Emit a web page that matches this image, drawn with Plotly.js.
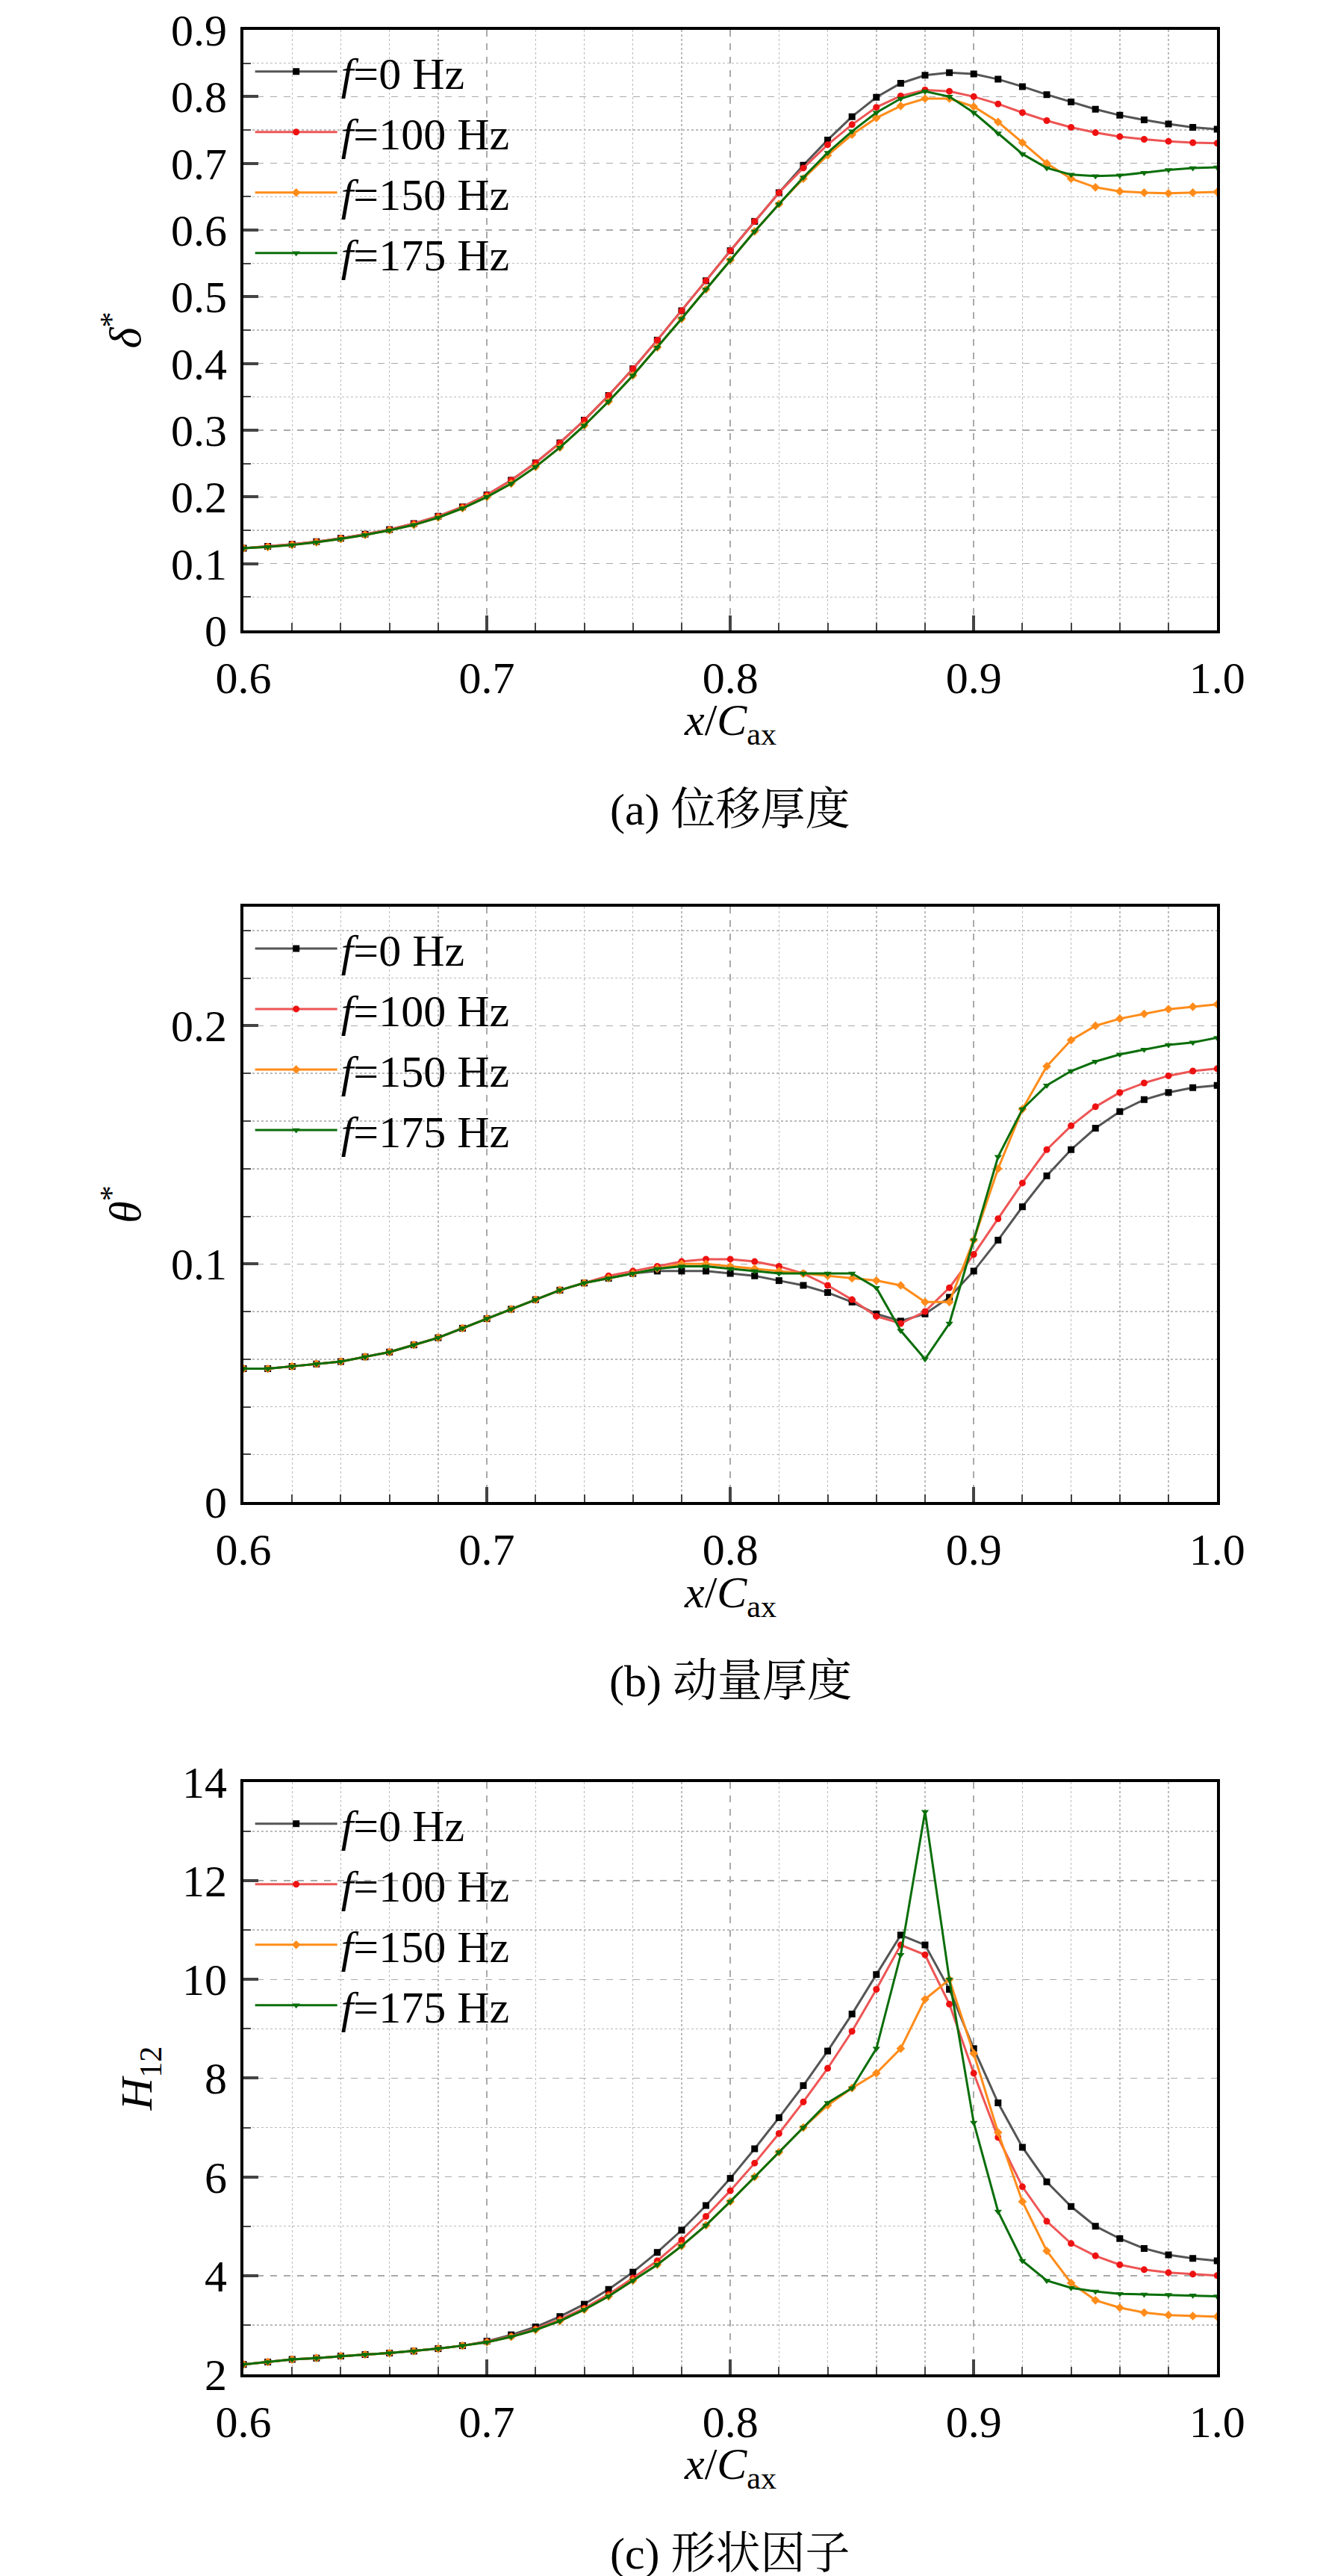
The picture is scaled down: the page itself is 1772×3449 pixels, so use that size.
<!DOCTYPE html>
<html><head><meta charset="utf-8">
<script src="https://cdn.plot.ly/plotly-3.0.1.min.js"></script>
<style>body{margin:0;background:#fff}</style></head>
<body><div id="c" style="width:1772px;height:3449px"></div>
<script>
const seriesNames = ["<i>f</i>=0 Hz","<i>f</i>=100 Hz","<i>f</i>=150 Hz","<i>f</i>=175 Hz"];
const colors = ["#000000","#ee1111","#ff8c1a","#0a6e0a"];
const lineColors = ["#555555","#ee5555","#ff8c1a","#0a6e0a"];
const symbols = ["square","circle","diamond","triangle-down"];

const xBase = [0.60,0.61,0.62,0.63,0.64,0.65,0.66,0.67,0.68,0.69,0.70,0.71,0.72,0.73,0.74,0.75,0.76,0.77,0.78,0.79,0.80,0.81,0.82,0.83,0.84,0.85,0.86,0.87,0.88,0.89,0.90,0.91,0.92,0.93,0.94,0.95,0.96,0.97,0.98,0.99,1.00];

// (a) displacement thickness
const dA_f0   = [0.123,0.126,0.129,0.133,0.138,0.144,0.151,0.160,0.171,0.185,0.203,0.225,0.251,0.281,0.315,0.352,0.392,0.435,0.479,0.524,0.569,0.613,0.656,0.697,0.735,0.770,0.799,0.820,0.832,0.836,0.834,0.826,0.815,0.803,0.792,0.781,0.772,0.765,0.759,0.754,0.751];
const dA_f100 = [0.123,0.126,0.129,0.133,0.138,0.144,0.151,0.160,0.171,0.185,0.203,0.225,0.251,0.281,0.315,0.352,0.392,0.435,0.479,0.524,0.569,0.613,0.656,0.693,0.728,0.758,0.784,0.801,0.810,0.808,0.800,0.789,0.776,0.764,0.754,0.746,0.740,0.736,0.733,0.731,0.730];
const dA_f150 = [0.123,0.125,0.128,0.132,0.137,0.143,0.150,0.158,0.169,0.183,0.200,0.220,0.245,0.274,0.307,0.343,0.382,0.424,0.467,0.511,0.555,0.598,0.639,0.677,0.712,0.743,0.768,0.786,0.797,0.797,0.785,0.762,0.731,0.700,0.677,0.664,0.658,0.656,0.655,0.656,0.657];
const dA_f175 = [0.123,0.125,0.128,0.132,0.137,0.143,0.150,0.158,0.169,0.183,0.200,0.220,0.245,0.274,0.307,0.343,0.382,0.424,0.467,0.511,0.555,0.598,0.639,0.679,0.716,0.748,0.776,0.797,0.808,0.800,0.776,0.745,0.714,0.693,0.683,0.681,0.682,0.686,0.690,0.693,0.694];

// (b) momentum thickness
const tB_f0   = [0.056,0.056,0.057,0.058,0.059,0.061,0.063,0.066,0.069,0.073,0.077,0.081,0.085,0.089,0.092,0.094,0.096,0.097,0.097,0.097,0.096,0.095,0.093,0.091,0.088,0.084,0.079,0.076,0.079,0.086,0.097,0.110,0.124,0.137,0.148,0.157,0.164,0.169,0.172,0.174,0.175];
const tB_f100 = [0.056,0.056,0.057,0.058,0.059,0.061,0.063,0.066,0.069,0.073,0.077,0.081,0.085,0.089,0.092,0.095,0.097,0.099,0.101,0.102,0.102,0.101,0.099,0.096,0.091,0.085,0.078,0.075,0.080,0.090,0.104,0.119,0.134,0.148,0.158,0.166,0.172,0.176,0.179,0.181,0.182];
const tB_f150 = [0.056,0.056,0.057,0.058,0.059,0.061,0.063,0.066,0.069,0.073,0.077,0.081,0.085,0.089,0.092,0.094,0.096,0.098,0.100,0.100,0.099,0.098,0.097,0.096,0.095,0.094,0.093,0.091,0.084,0.084,0.110,0.140,0.165,0.183,0.194,0.200,0.203,0.205,0.207,0.208,0.209];
const tB_f175 = [0.056,0.056,0.057,0.058,0.059,0.061,0.063,0.066,0.069,0.073,0.077,0.081,0.085,0.089,0.092,0.094,0.096,0.098,0.099,0.099,0.098,0.097,0.096,0.096,0.096,0.096,0.090,0.072,0.060,0.075,0.110,0.145,0.165,0.175,0.181,0.185,0.188,0.190,0.192,0.193,0.195];

// (c) shape factor
const hC_f0   = [2.20,2.25,2.30,2.33,2.37,2.40,2.43,2.47,2.52,2.58,2.67,2.80,2.96,3.17,3.42,3.72,4.07,4.47,4.92,5.42,5.97,6.57,7.20,7.85,8.55,9.30,10.10,10.90,10.70,9.80,8.60,7.50,6.60,5.90,5.40,5.00,4.75,4.55,4.42,4.35,4.30];
const hC_f100 = [2.20,2.25,2.30,2.33,2.37,2.40,2.43,2.47,2.52,2.58,2.66,2.77,2.92,3.11,3.34,3.62,3.95,4.30,4.72,5.20,5.72,6.28,6.88,7.52,8.20,8.95,9.80,10.70,10.50,9.50,8.10,6.80,5.80,5.10,4.65,4.40,4.22,4.12,4.06,4.03,4.00];
const hC_f150 = [2.20,2.25,2.30,2.33,2.37,2.40,2.43,2.47,2.52,2.58,2.65,2.76,2.90,3.08,3.31,3.58,3.90,4.22,4.60,5.02,5.50,6.00,6.50,7.00,7.45,7.80,8.10,8.60,9.60,10.00,8.50,6.90,5.50,4.50,3.85,3.50,3.35,3.25,3.20,3.18,3.17];
const hC_f175 = [2.20,2.25,2.30,2.33,2.37,2.40,2.43,2.47,2.52,2.58,2.65,2.76,2.90,3.08,3.31,3.58,3.90,4.22,4.60,5.02,5.50,6.00,6.50,7.00,7.50,7.80,8.60,10.50,13.40,10.00,7.10,5.30,4.30,3.90,3.75,3.68,3.63,3.62,3.61,3.60,3.58];

const panels = [
  {ys:[dA_f0,dA_f100,dA_f150,dA_f175], range:[0,0.9], dtick:0.1, minor:0.05, ytitle:"<i>δ</i><sup>*</sup>", cap:"(a) 位移厚度", dom:[0.7553,0.9884]},
  {ys:[tB_f0,tB_f100,tB_f150,tB_f175], range:[0,0.25], dtick:0.1, minor:0.02, ytitle:"<i>θ</i><sup>*</sup>", cap:"(b) 动量厚度", dom:[0.4169,0.6480]},
  {ys:[hC_f0,hC_f100,hC_f150,hC_f175], range:[2,14], dtick:2, minor:1, ytitle:"<i>H</i><sub>12</sub>", cap:"(c) 形状因子", dom:[0.0783,0.3082]}
];

const FONT = "Liberation Serif";
const FS = 60;
const traces = [];
const layout = {width:1772,height:3449,margin:{l:0,r:0,t:0,b:0},paper_bgcolor:"#fff",plot_bgcolor:"#fff",
  font:{family:FONT,size:FS,color:"#000"},annotations:[],showlegend:true};
const xd=[0.184,0.920];
panels.forEach((p,i)=>{
  const s = i===0?"":String(i+1);
  p.ys.forEach((y,k)=>{
    traces.push({x:xBase,y:y,xaxis:"x"+s,yaxis:"y"+s,type:"scatter",mode:"lines+markers",
      name:seriesNames[k],legend:"legend"+s,line:{color:lineColors[k],width:3},
      marker:{color:colors[k],symbol:symbols[k],size:9}});
  });
  const ax = {showline:true,mirror:true,linecolor:"#000",linewidth:4,ticks:"inside",ticklen:20,tickwidth:4,
    showgrid:true,gridcolor:"#aaaaaa",griddash:"dash",gridwidth:1.5,zeroline:false,tickfont:{family:FONT,size:FS}};
  layout["xaxis"+s] = Object.assign({},ax,{domain:xd,anchor:"y"+s,range:[0.6,1.0],dtick:0.1,tickformat:".1f",ticklabelstandoff:8,
    minor:{dtick:0.02,ticks:"inside",ticklen:10,tickwidth:2,showgrid:true,gridcolor:"#bbbbbb",griddash:"dot",gridwidth:1.5}});
  layout["yaxis"+s] = Object.assign({},ax,{domain:p.dom,anchor:"x"+s,range:p.range,dtick:p.dtick,ticklabelstandoff:6,
    minor:{dtick:p.minor,ticks:"inside",ticklen:10,tickwidth:2,showgrid:true,gridcolor:"#bbbbbb",griddash:"dot",gridwidth:1.5},
    title:{text:p.ytitle,font:{family:FONT,size:FS},standoff:22}});
  layout["legend"+s] = {x:0.19,y:p.dom[1]-0.003,xanchor:"left",yanchor:"top",bgcolor:"rgba(255,255,255,0)",
    font:{family:FONT,size:FS},tracegroupgap:0,itemwidth:110,entrywidth:0};
  const bottomPx = (1-p.dom[0])*3449;
  layout.annotations.push({xref:"paper",yref:"paper",x:0.552,y:1-(bottomPx+125)/3449,text:"<i>x</i>/<i>C</i><sub>ax</sub>",showarrow:false,font:{family:FONT,size:FS},yanchor:"middle"});
  layout.annotations.push({xref:"paper",yref:"paper",x:0.552,y:1-(bottomPx+240)/3449,text:p.cap,showarrow:false,font:{family:"Liberation Serif, Noto Serif CJK SC, Noto Sans CJK SC",size:FS},yanchor:"middle"});
});
Plotly.newPlot("c",traces,layout,{staticPlot:true});
</script></body></html>
